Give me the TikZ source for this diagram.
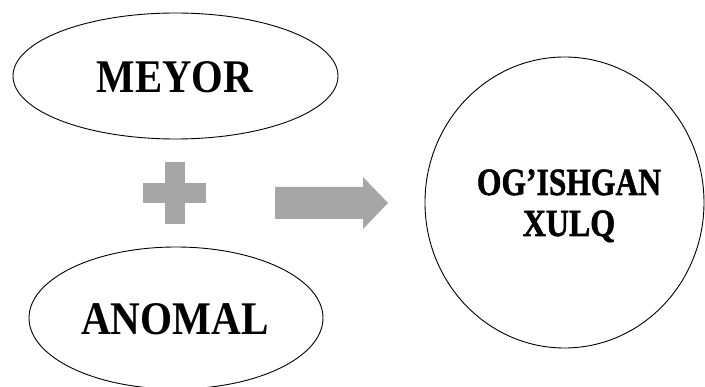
\documentclass[tikz,border=0pt]{standalone}
\usepackage{fontspec}
\usepackage{graphicx}
\setmainfont{Liberation Serif}
\newfontfamily\heavyfont[FakeBold=1.5]{Liberation Serif Bold}
\usetikzlibrary{shapes.geometric}
\definecolor{shapegray}{HTML}{A6A6A6}
\tikzset{
  oval/.style={draw=black, line width=0.9pt, ellipse, inner sep=0pt},
  bigtext/.style={font=\fontsize{46.8}{50}\selectfont\bfseries},
  circtext/.style={font=\heavyfont\fontsize{38.5}{43}\selectfont},
  grayshape/.style={fill=shapegray, draw=none}
}
\begin{document}
\begin{tikzpicture}[x=1pt, y=-1pt]
\useasboundingbox (0,0) rectangle (705,387);
\node[oval, minimum width=325pt, minimum height=126pt] (meyor) at (175.5,76) {};
\node[bigtext, anchor=base] (meyortxt) at (175,93) {\scalebox{0.87}[1]{MEYOR}};
\node[oval, minimum width=294pt, minimum height=142pt] (anomal) at (176,318) {};
\node[bigtext, anchor=base] (anomaltxt) at (175,335) {\scalebox{0.88}[1]{ANOMAL}};
\node[oval, minimum width=279pt, minimum height=291pt] (xulq) at (564.5,202.5) {};
\node[circtext, anchor=base] (t1) at (569,195) {\scalebox{0.82}[1]{OG’ISHGAN}};
\node[circtext, anchor=base] (t2) at (569,236) {\scalebox{0.83}[1]{XULQ}};
% plus sign
\fill[grayshape] (165,162) rectangle (185,224);
\fill[grayshape] (143,183) rectangle (206,203);
% block arrow
\fill[grayshape] (275,187) -- (363,187) -- (363,177) -- (388,203) -- (363,229) -- (363,219) -- (275,219) -- cycle;
\end{tikzpicture}
\end{document}
